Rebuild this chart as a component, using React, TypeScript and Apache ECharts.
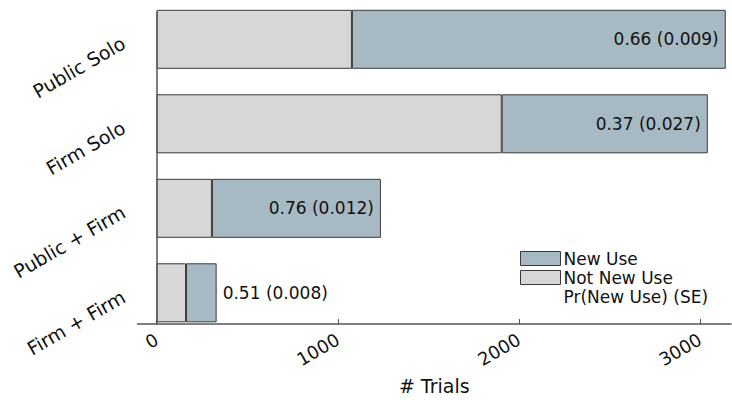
import React, { useEffect, useRef } from "react";
import * as echarts from "echarts";

const categories = ["Public Solo", "Firm Solo", "Public + Firm", "Firm + Firm"];
const notNewUse = [1078, 1905, 305, 162];
const newUse = [2064, 1138, 933, 169];
const probNewUse = ["0.66", "0.37", "0.76", "0.51"];
const seNewUse = ["0.009", "0.027", "0.012", "0.008"];
const xTicks = [0, 1000, 2000, 3000];
const yTicks = [1, 2, 3, 4];

const FONT = "DejaVu Sans";
const GRAY = "#d7d7d7";
const BLUE = "#a7b9c3";
const EDGE = "#3a3a3a";
const AXIS = "#555";

export default function App() {
  const ref = useRef<HTMLDivElement>(null);
  useEffect(() => {
    if (!ref.current) return;
    const chart = echarts.init(ref.current, null, { renderer: "svg" });
    const xMin = -106;
    const xMax = 3171;
    chart.setOption({
      animation: false,
      textStyle: { fontFamily: FONT },
      grid: [
        { left: 137.5, right: 1, top: -1, height: 339, containLabel: false },
        { left: 137.5, right: 1, top: 12, height: 313.5, containLabel: false },
      ],
      xAxis: [
        { type: "value", gridIndex: 0, min: xMin, max: xMax, show: false },
        {
          type: "value",
          gridIndex: 1,
          min: xMin,
          max: xMax,
          name: "# Trials",
          nameLocation: "middle",
          nameGap: 52,
          nameTextStyle: { fontSize: 19, color: "#111", fontFamily: FONT },
          splitLine: { show: false },
          axisLine: { show: true, lineStyle: { color: AXIS, width: 1.5 } },
          axisTick: {
            show: true,
            inside: true,
            length: 5,
            customValues: xTicks,
            lineStyle: { color: AXIS, width: 1 },
          },
          axisLabel: {
            customValues: xTicks,
            rotate: 30,
            fontSize: 18,
            color: "#111",
            margin: 14,
            fontFamily: FONT,
            formatter: (v: number) => String(v),
          },
        },
      ],
      yAxis: [
        {
          type: "category",
          gridIndex: 0,
          data: categories,
          inverse: true,
          show: false,
        },
        {
          type: "value",
          gridIndex: 1,
          inverse: true,
          min: 0.652,
          max: 4.342,
          splitLine: { show: false },
          axisLine: { show: true, lineStyle: { color: AXIS, width: 1.5 } },
          axisTick: {
            show: true,
            inside: true,
            length: 5,
            customValues: yTicks,
            lineStyle: { color: AXIS, width: 1 },
          },
          axisLabel: {
            customValues: yTicks,
            rotate: 30,
            fontSize: 19,
            color: "#111",
            margin: 14,
            fontFamily: FONT,
            formatter: (v: number) => categories[Math.round(v) - 1] ?? "",
          },
        },
      ],
      legend: {
        orient: "vertical",
        left: 520,
        top: 250,
        padding: 0,
        itemWidth: 40,
        itemHeight: 14,
        itemGap: 2,
        textStyle: { fontSize: 17, color: "#111", fontFamily: FONT, padding: [0, 0, 0, -2] },
        data: [
          { name: "New Use", icon: "rect", itemStyle: { color: BLUE, borderColor: EDGE, borderWidth: 1 } },
          { name: "Not New Use", icon: "rect", itemStyle: { color: GRAY, borderColor: EDGE, borderWidth: 1 } },
          {
            name: "Pr(New Use) (SE)",
            icon: "rect",
            itemStyle: { color: "rgba(0,0,0,0)", borderWidth: 0, opacity: 0 },
          },
        ],
        selectedMode: false,
      },
      series: [
        {
          name: "Not New Use",
          type: "bar",
          stack: "total",
          xAxisIndex: 0,
          yAxisIndex: 0,
          barWidth: 59,
          itemStyle: { color: GRAY, borderColor: EDGE, borderWidth: 1 },
          data: notNewUse,
        },
        {
          name: "New Use",
          type: "bar",
          stack: "total",
          xAxisIndex: 0,
          yAxisIndex: 0,
          barWidth: 59,
          itemStyle: { color: BLUE, borderColor: EDGE, borderWidth: 1 },
          data: newUse.map((v, i) => ({
            value: v,
            label: {
              show: true,
              position: i === newUse.length - 1 ? "right" : "insideRight",
              distance: i === newUse.length - 1 ? 6 : 7,
              formatter: `${probNewUse[i]} (${seNewUse[i]})`,
              fontSize: 17,
              color: "#111",
              fontFamily: FONT,
            },
          })),
        },
        {
          name: "Pr(New Use) (SE)",
          type: "bar",
          xAxisIndex: 0,
          yAxisIndex: 0,
          data: [],
        },
      ],
    });
    return () => chart.dispose();
  }, []);
  return (
    <div
      ref={ref}
      style={{ position: "absolute", left: 0, top: 0, width: 732, height: 400 }}
    />
  );
}
